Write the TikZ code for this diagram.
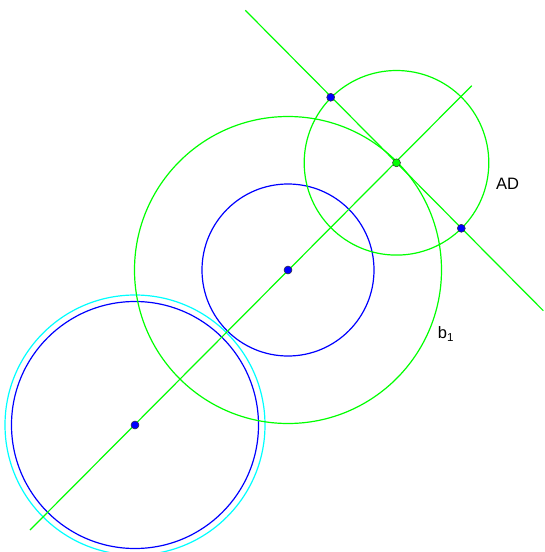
\documentclass[tikz,border=0pt]{standalone}
\usepackage{fontspec}
\setmainfont{Liberation Sans}
\usetikzlibrary{positioning}

\definecolor{geogreen}{RGB}{0,255,0}
\definecolor{geoblue}{RGB}{0,0,255}
\definecolor{geocyan}{RGB}{0,255,255}

\begin{document}
\begin{tikzpicture}[
    x=1pt, y=-1pt,
    every node/.style={font=\fontsize{16.5}{19}\selectfont},
    gline/.style={draw=geogreen, line width=1.2pt},
    bcirc/.style={draw=geoblue, line width=1.2pt},
    ccirc/.style={draw=geocyan, line width=1.2pt},
    pt/.style={circle, draw=black!80, line width=0.5pt, inner sep=0pt, minimum size=8pt, fill=geoblue},
    gpt/.style={pt, fill=geogreen}
]
\useasboundingbox (0,0) rectangle (544,552);

% centre line and tangent line
\coordinate (l1a) at (30,530);
\coordinate (l1b) at (471.7,85.7);
\coordinate (l2a) at (245.3,10.3);
\coordinate (l2b) at (543.3,310.7);

% circles
\draw[ccirc] (135,425) circle (130);
\draw[bcirc] (135,425) circle (123.5);
\draw[bcirc] (288,270) circle (86);
\draw[gline] (288,270) circle (153.5);
\draw[gline] (396.5,162.8) circle (92.3);

\draw[gline] (l1a) -- (l1b);
\draw[gline] (l2a) -- (l2b);

% points
\node[pt] (c1) at (135,425) {};
\node[pt] (c2) at (288,270) {};
\node[gpt] (t) at (396.5,162.8) {};
\node[pt] (p) at (330.7,97.3) {};
\node[pt] (q) at (461.3,228.3) {};

% labels
\node (ad) at (507.5,184) {AD};
\node (b1) at (446,334) {b\textsubscript{1}};
\end{tikzpicture}
\end{document}
